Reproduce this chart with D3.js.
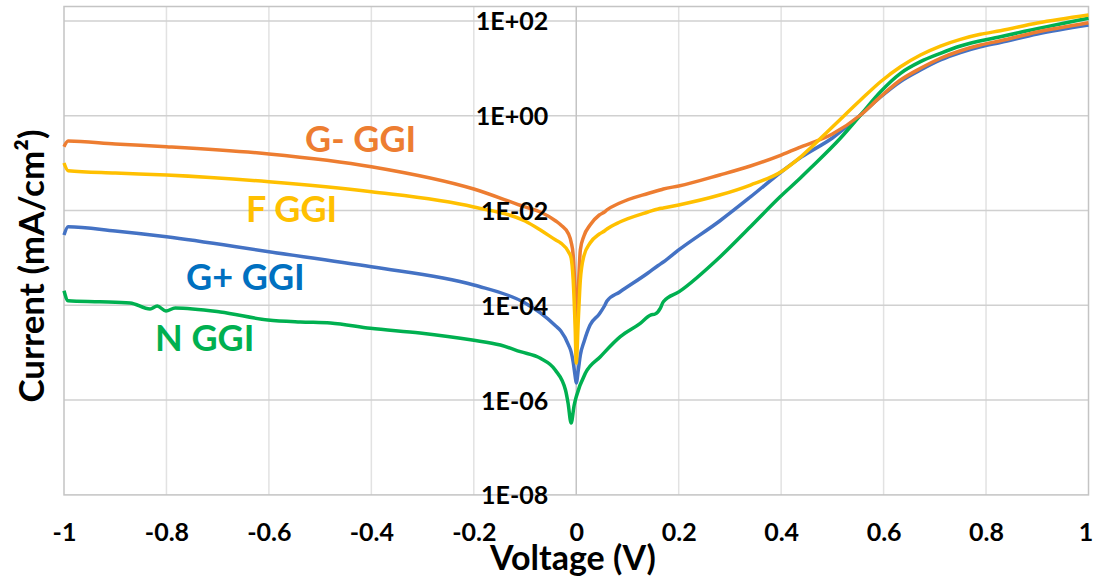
<!DOCTYPE html>
<html>
<head>
<meta charset="utf-8">
<script src="https://cdn.jsdelivr.net/npm/d3@7"></script>
<style>
  body { margin: 0; background: #fff; }
  svg text { font-family: Lato, "Open Sans", sans-serif; font-weight: bold; }
</style>
</head>
<body>
<div id="chart"></div>
<script>
// voltage sweep shared by the G-, F and G+ curves (V)
const volts = [-1, -0.992, -0.9, -0.8, -0.6, -0.4, -0.2, -0.1, -0.07, -0.04, -0.03, -0.015, -0.01, -0.006, -0.002, 0,
  0.004, 0.008, 0.015, 0.027, 0.045, 0.055, 0.06, 0.085, 0.14, 0.16, 0.17, 0.2, 0.28, 0.34, 0.4, 0.44, 0.5,
  0.555, 0.594, 0.633, 0.672, 0.711, 0.75, 0.789, 0.828, 0.9, 1];

// current density (mA/cm2)
const currGminus = [0.222, 0.292, 0.253, 0.222, 0.156, 0.084, 0.0284, 0.0119, 0.0093, 0.0060, 0.00494, 0.00319,
  0.00216, 0.00115, 1.29e-4, 1.85e-5, 2.10e-4, 1.47e-3, 2.90e-3, 4.94e-3, 8.04e-3, 9.3e-3, 0.0103, 0.0144, 0.0229,
  0.0264, 0.0284, 0.0329, 0.0561, 0.0869, 0.148, 0.222, 0.411,
  1.035, 2.52, 5.66, 10.0, 16.3, 23.5, 31.0, 38.2, 58.3, 91.6];
const currF = [0.1005, 0.0692, 0.0618, 0.0561, 0.0405, 0.0249, 0.0119, 6.0e-3, 3.88e-3, 2.39e-3, 2.06e-3, 1.33e-3,
  9.95e-4, 3.42e-4, 3.01e-5, 6.07e-6, 4.90e-5, 3.42e-4, 1.10e-3, 2.06e-3, 3.19e-3, 3.70e-3, 4.07e-3, 5.71e-3, 9.3e-3,
  0.0108, 0.0113, 0.0131, 0.0212, 0.0345, 0.0659, 0.141, 0.578,
  2.14, 5.21, 10.8, 19.1, 29.5, 40.9, 52.1, 62.1, 90, 133];
const currGplus = [3.04e-3, 4.55e-3, 3.70e-3, 2.80e-3, 1.35e-3, 6.52e-4, 2.68e-4, 1.12e-4, 6.89e-5, 3.66e-5, 2.87e-5,
  1.45e-5, 1.04e-5, 6.37e-6, 3.12e-6, 2.30e-6, 4.32e-6, 8.95e-6, 1.68e-5, 3.84e-5, 6.55e-5, 9.66e-5, 1.23e-4, 1.91e-4,
  4.80e-4, 6.92e-4, 8.20e-4, 1.47e-3, 6.0e-3, 0.0193, 0.0649, 0.135, 0.339,
  1.035, 2.48, 5.27, 9.2, 15.0, 21.5, 28.4, 35.0, 52.9, 82];

// N GGI was measured on its own (noisier) sweep
const voltsN = [-1, -0.992, -0.93, -0.871, -0.832, -0.818, -0.801, -0.783, -0.695, -0.602, -0.539, -0.48, -0.402,
  -0.305, -0.203, -0.148, -0.109, -0.07, -0.041, -0.021, -0.016, -0.01, -0.004, 0, 0.018, 0.047, 0.086, 0.125, 0.145,
  0.154, 0.164, 0.17, 0.201, 0.281, 0.34, 0.398, 0.4375, 0.457, 0.516, 0.555, 0.594, 0.633, 0.672, 0.711, 0.75, 0.828, 1];
const currN = [2.03e-4, 1.25e-4, 1.19e-4, 1.12e-4, 8.36e-5, 9.66e-5, 7.59e-5, 8.77e-5, 7.23e-5, 4.90e-5, 4.45e-5,
  4.24e-5, 3.27e-5, 2.61e-5, 1.85e-5, 1.45e-5, 1.05e-5, 7.62e-6, 4.32e-6, 1.63e-6, 8.69e-7, 3.29e-7, 7.88e-7, 1.18e-6,
  3.73e-6, 8.24e-6, 2.18e-5, 4.17e-5, 6.24e-5, 6.55e-5, 8.65e-5, 1.19e-4, 1.94e-4, 1.06e-3, 4.55e-3, 0.0195, 0.0485,
  0.0777, 0.339, 1.035, 3.21, 7.85, 13.8, 20.7, 29.5, 46.4, 113.5];

const seriesNames = ["G+ GGI", "N GGI", "G- GGI", "F GGI"];
const xTicks = [-1, -0.8, -0.6, -0.4, -0.2, 0, 0.2, 0.4, 0.6, 0.8, 1];
const yTicks = [1e-8, 1e-6, 1e-4, 1e-2, 1, 1e2];
const yTickLabels = ["1E-08", "1E-06", "1E-04", "1E-02", "1E+00", "1E+02"];

// drawing order: blue, green, orange, gold (last on top)
const series = [
  {name: seriesNames[0], v: volts, i: currGplus, line: "#4472c4", label: "#0070c0", lx: 186, ly: 290},
  {name: seriesNames[1], v: voltsN, i: currN, line: "#00b050", label: "#00b050", lx: 155, ly: 351},
  {name: seriesNames[2], v: volts, i: currGminus, line: "#ed7d31", label: "#ed7d31", lx: 305, ly: 152},
  {name: seriesNames[3], v: volts, i: currF, line: "#ffc000", label: "#ffc000", lx: 246, ly: 222}
];

const W = 1094, H = 578;
const plot = {left: 64, right: 1088.5, top: 6.5, bottom: 494.9};

const svg = d3.select("#chart").append("svg")
  .attr("width", W)
  .attr("height", H);

const x = d3.scaleLinear().domain([-1, 1]).range([plot.left, plot.right]);
const y = d3.scaleLog().domain([1e-8, Math.pow(10, 2.304)]).range([plot.bottom, plot.top]);

// vertical gridlines
svg.append("g")
  .selectAll("line")
  .data(xTicks.filter(d => d !== -1 && d !== 0 && d !== 1))
  .enter().append("line")
    .attr("x1", d => x(d)).attr("x2", d => x(d))
    .attr("y1", plot.top).attr("y2", plot.bottom)
    .attr("stroke", "#e2e2e2")
    .attr("stroke-width", 1.5);

// horizontal gridlines
svg.append("g")
  .selectAll("line")
  .data(yTicks.filter(d => d > 1e-8))
  .enter().append("line")
    .attr("x1", plot.left).attr("x2", plot.right)
    .attr("y1", d => y(d)).attr("y2", d => y(d))
    .attr("stroke", "#d0d0d0")
    .attr("stroke-width", 1.5);

// plot frame
svg.append("rect")
  .attr("x", plot.left).attr("y", plot.top)
  .attr("width", plot.right - plot.left).attr("height", plot.bottom - plot.top)
  .attr("fill", "none")
  .attr("stroke", "#c4c4c4")
  .attr("stroke-width", 1.5);

// vertical axis at V = 0
svg.append("line")
  .attr("x1", x(0)).attr("x2", x(0))
  .attr("y1", plot.top).attr("y2", plot.bottom)
  .attr("stroke", "#c4c4c4")
  .attr("stroke-width", 1.5);

// curves
const line = d3.line()
  .x(d => x(d[0]))
  .y(d => y(d[1]))
  .curve(d3.curveMonotoneX);

svg.append("g")
  .selectAll("path")
  .data(series)
  .enter().append("path")
    .attr("d", s => line(s.v.map((v, k) => [v, s.i[k]])))
    .attr("fill", "none")
    .attr("stroke", s => s.line)
    .attr("stroke-width", 3.5)
    .attr("stroke-linejoin", "round");

// y axis labels, left of the V = 0 axis
const yAxis = svg.append("g")
  .attr("transform", "translate(" + x(0) + ",0)")
  .call(d3.axisLeft(y).tickValues(yTicks).tickSize(0).tickPadding(28)
    .tickFormat((d, k) => yTickLabels[k]));
yAxis.select(".domain").remove();
yAxis.selectAll("text")
  .attr("dy", "0.36em")
  .style("font-size", "25px")
  .attr("fill", "#000");

// x axis labels
const xAxis = svg.append("g")
  .attr("transform", "translate(0," + plot.bottom + ")")
  .call(d3.axisBottom(x).tickValues(xTicks).tickSize(0)
    .tickFormat(d => String(d)));
xAxis.select(".domain").remove();
xAxis.selectAll("text")
  .attr("y", 532 - plot.bottom)
  .attr("dy", "0.36em")
  .attr("dx", d => d === 1 ? -3 : 0)
  .style("font-size", "25px")
  .attr("fill", "#000");

// axis titles
svg.append("text")
  .attr("x", 573)
  .attr("y", 570)
  .attr("text-anchor", "middle")
  .style("font-size", "34px")
  .text("Voltage (V)");

svg.append("text")
  .attr("transform", "translate(44,266) rotate(-90)")
  .attr("text-anchor", "middle")
  .style("font-size", "35px")
  .text("Current (mA/cm²)");

// series labels
svg.append("g")
  .selectAll("text")
  .data(series)
  .enter().append("text")
    .attr("x", s => s.lx)
    .attr("y", s => s.ly)
    .attr("fill", s => s.label)
    .style("font-size", "36px")
    .text(s => s.name);
</script>
</body>
</html>
